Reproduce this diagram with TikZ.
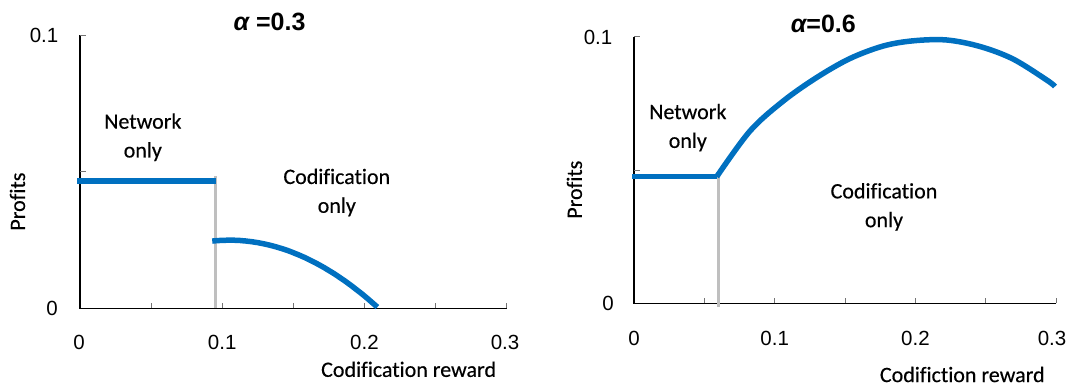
\documentclass[tikz,border=0pt]{standalone}
\usepackage{fontspec}
\setmainfont{Carlito}[Ligatures=NoCommon, FakeBold=0.35]
\newfontfamily\arialf{Liberation Sans}
\definecolor{curveblue}{HTML}{0070C0}
\definecolor{splitgray}{HTML}{BFBFBF}
\begin{document}
\begin{tikzpicture}[x=1pt,y=-1pt,
  axis/.style={line width=1.1pt, black},
  tickm/.style={line width=0.8pt, black!55},
  curve/.style={line width=5.5pt, curveblue},
  split/.style={line width=2.5pt, splitgray},
  lbl/.style={font=\fontsize{22}{28.8}\selectfont, align=center, inner sep=0pt},
  num/.style={font=\arialf\fontsize{20.5}{24}\selectfont, inner sep=0pt},
  ttl/.style={font=\arialf\bfseries\fontsize{25}{29}\selectfont, inner sep=0pt}]
\useasboundingbox (0,0) rectangle (1073,386);

% ---------------- left chart ----------------
\coordinate (L0) at (80,308.3);
\coordinate (Lx) at (506.7,308.3);
\coordinate (Ly) at (80,35);
\draw[axis] (Ly) -- (L0) -- (Lx);
\foreach \t in {0.05,0.1,0.15,0.2,0.25,0.3}
  \draw[tickm] ({80+1422*\t},308.3) -- ++(0,-5);
\draw[tickm] (80,35) -- (85.5,35);
\draw[tickm] (80,171.6) -- (85.5,171.6);

\coordinate (Lsplittop) at (215.7,176);
\coordinate (Lsplitbot) at (215.7,308.3);
\draw[split] (Lsplittop) -- (Lsplitbot);
\begin{scope}[shift={(80pt,-308.3pt)}, x=1422pt, y=2733pt]
  \draw[curve] (-0.0018,0.0466) -- (0.0954,0.0466);
  \draw[curve] plot[domain=0.093:0.21, samples=60] (\x,{0.0249-2.26*(\x-0.105)^2});
\end{scope}

\node[ttl] (tl) at (269.5,21.7) {\itshape α\upshape\ =0.3};
\node[num] (ly1) at (44,35) {0.1};
\node[num] (ly0) at (52,308) {0};
\node[num] (lx0) at (79,342) {0};
\node[num] (lx1) at (222.2,342) {0.1};
\node[num] (lx2) at (364.4,342) {0.2};
\node[num] (lx3) at (505,342) {0.3};
\node[lbl] (lxl) at (408.6,369.3) {Codification reward};
\node[lbl, rotate=90] (lyl) at (17.5,201.6) {Profits};
\node[lbl] (lnet) at (142.8,137.2) {Network\\only};
\node[lbl] (lcod) at (336.8,192.5) {Codification\\only};

% ---------------- right chart ----------------
\coordinate (R0) at (634,303.3);
\coordinate (Rx) at (1056,303.3);
\coordinate (Ry) at (634,36.7);
\draw[axis] (Ry) -- (R0) -- (Rx);
\foreach \t in {0.05,0.1,0.15,0.2,0.25,0.3}
  \draw[tickm] ({634+1407*\t},303.3) -- ++(0,-5);
\draw[tickm] (634,36.7) -- (640,36.7);
\draw[tickm] (634,170) -- (640,170);

\coordinate (Rsplittop) at (718.3,175);
\coordinate (Rsplitbot) at (718.3,307);
\draw[split] (Rsplittop) -- (Rsplitbot);
\draw[curve] (632,176.7) -- (717,176.7);
\draw[curve] plot[smooth, tension=0.55] coordinates {(716.7,176.7) (750,131) (783.3,101) (816.7,77.5) (850,58.5) (883.3,46) (913.3,40.8) (946.7,40) (980,46.5) (1013,59) (1046.7,80) (1055,86.5)};

\node[ttl] (tr) at (823.4,24.3) {\itshape α\upshape =0.6};
\node[num] (ry1) at (598,37) {0.1};
\node[num] (ry0) at (608,303) {0};
\node[num] (rx0) at (634,338) {0};
\node[num] (rx1) at (774.7,338) {0.1};
\node[num] (rx2) at (915.4,338) {0.2};
\node[num] (rx3) at (1052,338) {0.3};
\node[lbl] (rxl) at (962.3,374.5) {Codifiction reward};
\node[lbl, rotate=90] (ryl) at (574.4,189.7) {Profits};
\node[lbl] (rnet) at (687.8,127.6) {Network\\only};
\node[lbl] (rcod) at (884,206.9) {Codification\\only};
\end{tikzpicture}
\end{document}
